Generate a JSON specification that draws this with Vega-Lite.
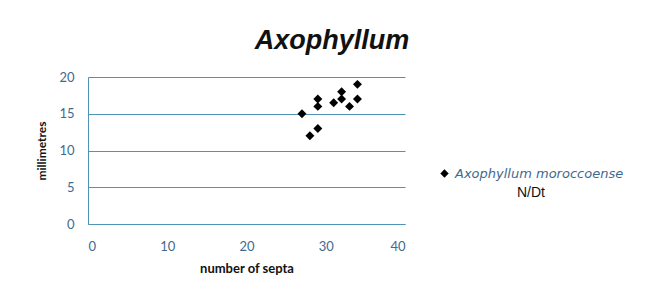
{
  "$schema": "https://vega.github.io/schema/vega-lite/v6.json",
  "width": 317,
  "height": 147,
  "padding": {"left": 35, "top": 27, "right": 10, "bottom": 10},
  "background": "white",
  "title": {
    "text": "Axophyllum",
    "font": "Liberation Sans",
    "fontSize": 27,
    "fontWeight": "bold",
    "fontStyle": "italic",
    "color": "#111111",
    "anchor": "middle",
    "frame": "bounds",
    "offset": 16,
    "dx": 2
  },
  "data": {
    "values": [
      {"septa": 27, "mm": 15, "species": "Axophyllum moroccoense"},
      {"septa": 29, "mm": 17, "species": "Axophyllum moroccoense"},
      {"septa": 29, "mm": 16, "species": "Axophyllum moroccoense"},
      {"septa": 28, "mm": 12, "species": "Axophyllum moroccoense"},
      {"septa": 29, "mm": 13, "species": "Axophyllum moroccoense"},
      {"septa": 31, "mm": 16.5, "species": "Axophyllum moroccoense"},
      {"septa": 32, "mm": 18, "species": "Axophyllum moroccoense"},
      {"septa": 32, "mm": 17, "species": "Axophyllum moroccoense"},
      {"septa": 33, "mm": 16, "species": "Axophyllum moroccoense"},
      {"septa": 34, "mm": 19, "species": "Axophyllum moroccoense"},
      {"septa": 34, "mm": 17, "species": "Axophyllum moroccoense"}
    ]
  },
  "mark": {"type": "point", "shape": "diamond", "filled": true, "size": 80, "opacity": 1},
  "encoding": {
    "x": {
      "field": "septa", "type": "quantitative",
      "scale": {"domain": [0, 40], "nice": false},
      "axis": {
        "title": "number of septa", "values": [0, 10, 20, 30, 40],
        "grid": false, "ticks": false, "domainColor": "#4F94B8",
        "labelColor": "#3F6A8F", "labelFont": "Lato", "labelFontSize": 13, "labelPadding": 16,
        "titleFont": "Lato", "titleFontSize": 13, "titleFontWeight": "bold", "titleColor": "#111111", "titlePadding": 9
      }
    },
    "y": {
      "field": "mm", "type": "quantitative",
      "scale": {"domain": [0, 20], "nice": false},
      "axis": {
        "title": "millimetres", "values": [0, 5, 10, 15, 20],
        "grid": true, "gridColor": "#4F94B8", "gridWidth": 1.2, "ticks": false, "domainColor": "#4F94B8",
        "labelColor": "#3F6A8F", "labelFont": "Lato", "labelFontSize": 13, "labelPadding": 14,
        "titleFont": "Lato", "titleFontSize": 12, "titleFontWeight": "bold", "titleColor": "#111111", "titlePadding": 10
      }
    },
    "color": {
      "field": "species", "type": "nominal",
      "scale": {"range": ["#000000"]},
      "legend": {
        "title": "N/Dt", "orient": "none", "legendX": 350, "legendY": 90,
        "titleOrient": "bottom", "titleAnchor": "middle", "titleFont": "Liberation Sans", "titleFontSize": 14, "titleFontWeight": "normal", "titleColor": "#111111",
        "labelFont": "DejaVu Sans", "labelFontStyle": "italic", "labelFontSize": 13, "labelColor": "#3F6A8F", "labelLimit": 400,
        "symbolType": "diamond", "symbolSize": 70, "symbolFillColor": "#000000", "symbolStrokeWidth": 0
      }
    }
  },
  "config": {"view": {"stroke": null}}
}
